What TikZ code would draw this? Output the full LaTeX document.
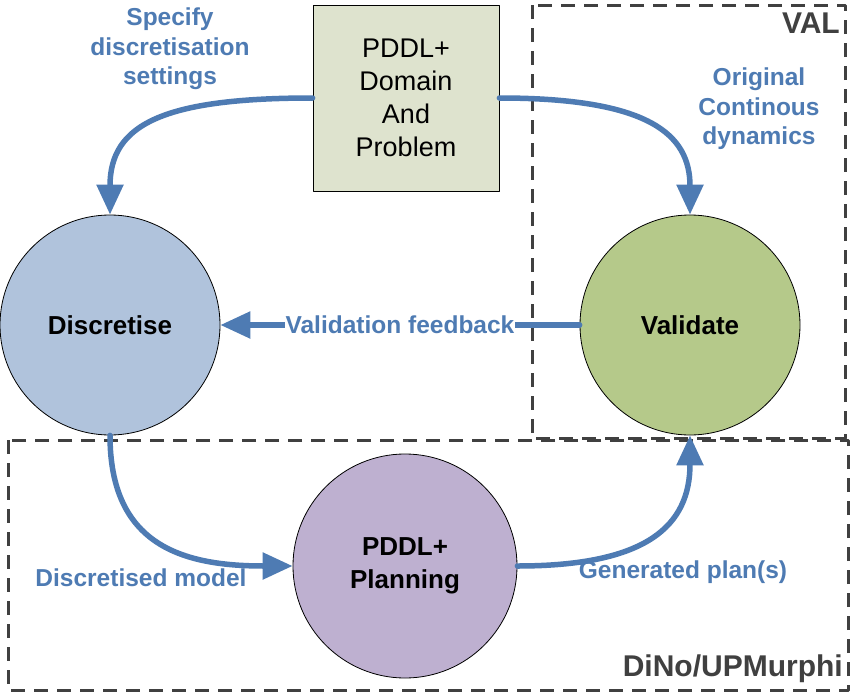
\documentclass[tikz,border=0pt]{standalone}
\usepackage{fontspec}
\setmainfont{Liberation Sans}
\usetikzlibrary{arrows.meta,positioning}
\definecolor{dinoBlue}{HTML}{4E7BB3}
\definecolor{dinoGrey}{HTML}{404040}
\definecolor{dinoSage}{HTML}{DEE3CE}
\definecolor{dinoSky}{HTML}{B0C3DC}
\definecolor{dinoLeaf}{HTML}{B5C98A}
\definecolor{dinoLilac}{HTML}{BEB0D0}

\begin{document}
\begin{tikzpicture}[x=1pt,y=-1pt,>={Triangle[length=30pt,width=26pt]},line join=round]
\useasboundingbox[fill=white] (0,0) rectangle (852,696);
\tikzset{flow/.style={draw=dinoBlue,line width=5.5pt,line cap=round,->},blob/.style={circle,draw=black,line width=0.8pt,minimum size=220pt,inner sep=0pt,align=center,font=\fontsize{26}{33}\selectfont\bfseries},tag/.style={text=dinoBlue,font=\fontsize{24.5}{29.5}\selectfont\bfseries,align=center},zone/.style={draw=dinoGrey,line width=3pt,dash pattern=on 14pt off 9pt},zonename/.style={text=dinoGrey,font=\fontsize{30}{32}\selectfont\bfseries}}
% groups
\draw[zone] (532,5) rectangle (845,438); \node[zonename,anchor=north east,inner sep=2pt] (valname) at (842,11) {VAL};
\draw[zone] (8,440) rectangle (848,690); \node[zonename,anchor=south east,inner sep=2pt] (dinoname) at (845,685) {DiNo/UPMurphi};
% nodes
\node[draw=black,line width=0.8pt,fill=dinoSage,minimum width=186pt,minimum height=186pt,align=center,font=\fontsize{27}{33}\selectfont] (domain) at (406,98) {PDDL+\\Domain\\And\\Problem};
\node[blob,fill=dinoSky] (disc) at (110,325) {Discretise};
\node[blob,fill=dinoLeaf] (valid) at (690,325) {Validate};
\node[blob,fill=dinoLilac,minimum size=224pt] (plan) at (405,566) {PDDL+\\Planning};
% flows
\draw[flow] (domain.west) .. controls +(-150,0) and +(0,-90) .. (disc.north);
\draw[flow] (domain.east) .. controls +(150,0) and +(0,-80) .. (valid.north);
\draw[flow] (valid.west) -- node[fill=white,inner sep=1pt,tag] (feedback) {Validation feedback} (disc.east);
\draw[flow] (disc.south) .. controls +(0,110) and +(-110,0) .. (plan.west);
\draw[flow] (plan.east) .. controls +(130,0) and +(0,90) .. (valid.south);
% labels
\node[tag] (specify) at (170,49) {Specify\\discretisation\\settings};
\node[tag] (original) at (759,109) {Original\\Continous\\dynamics};
\node[tag] (model) at (141,578) {Discretised model};
\node[tag] (plans) at (683,572) {Generated plan(s)};
\end{tikzpicture}
\end{document}
